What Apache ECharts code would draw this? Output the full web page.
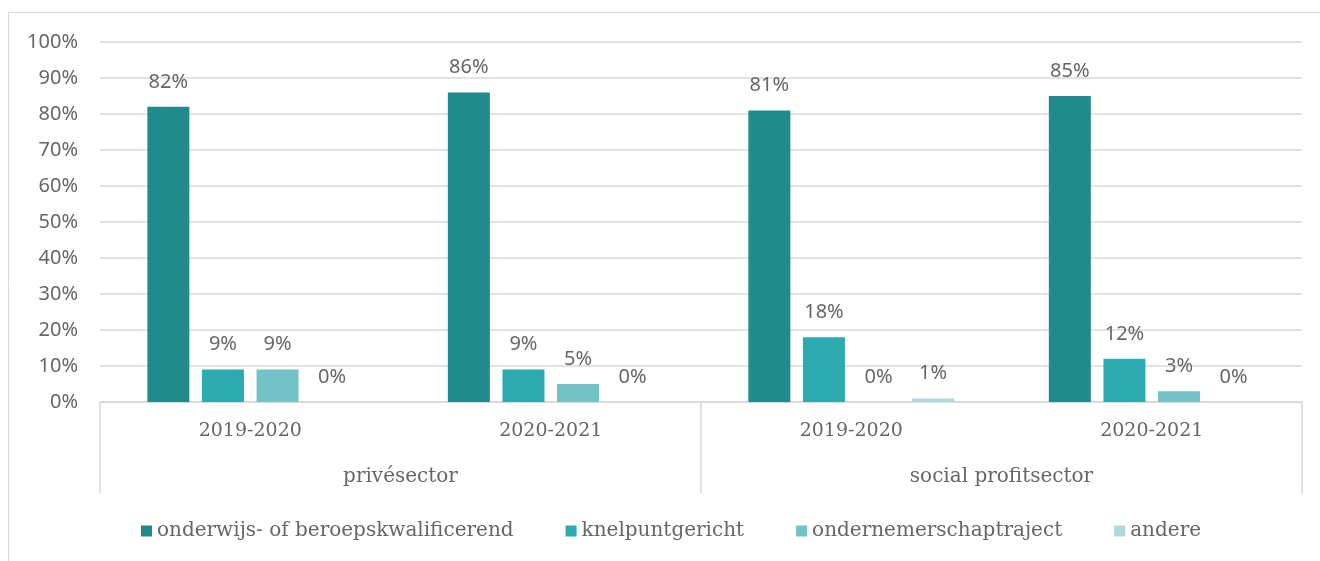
<!DOCTYPE html>
<html>
<head>
<meta charset="utf-8">
<script src="https://cdn.jsdelivr.net/npm/echarts@6/dist/echarts.min.js"></script>
<style>
html,body{margin:0;padding:0;background:#fff;}
#chart{width:1320px;height:561px;}
</style>
</head>
<body>
<div id="chart"></div>
<script>
const years = ["2019-2020", "2020-2021", "2019-2020", "2020-2021"];
const sectors = ["privésector", "social profitsector"];
const seriesNames = ["onderwijs- of beroepskwalificerend", "knelpuntgericht", "ondernemerschaptraject", "andere"];
const onderwijs = [82, 86, 81, 85];
const knelpunt = [9, 9, 18, 12];
const ondernemer = [9, 5, 0, 3];
const andere = [0, 0, 1, 0];
const yTicks = [0, 10, 20, 30, 40, 50, 60, 70, 80, 90, 100];

const colors = ["#218B8C", "#2EABB0", "#72C2C6", "#B0D9DB"];
const values = [onderwijs, knelpunt, ondernemer, andere];
const serifFont = "'DejaVu Serif', 'Liberation Serif', serif";
const sansFont = "'Noto Sans', 'Open Sans', sans-serif";
const textColor = "#666666";

const chart = echarts.init(document.getElementById('chart'));
chart.setOption({
  animation: false,
  color: colors,
  graphic: [{
    type: 'rect',
    shape: {x: 8.5, y: 12.5, width: 1400, height: 700},
    style: {fill: 'none', stroke: '#d9d9d9', lineWidth: 1},
    silent: true
  }],
  grid: {left: 100, right: 18, top: 42, bottom: 159},
  legend: {
    bottom: 15,
    left: 136,
    itemWidth: 11,
    itemHeight: 11,
    itemGap: 52,
    icon: 'rect',
    textStyle: {fontFamily: serifFont, fontSize: 20, color: textColor},
    data: seriesNames
  },
  xAxis: [{
    type: 'category',
    data: years,
    axisLine: {lineStyle: {color: '#d9d9d9', width: 1.5}},
    axisTick: {show: false},
    axisLabel: {fontFamily: serifFont, fontSize: 19, color: textColor, margin: 20}
  }, {
    type: 'category',
    data: sectors,
    position: 'bottom',
    axisLine: {show: false},
    axisTick: {show: true, length: 91, interval: 0, lineStyle: {color: '#d9d9d9', width: 1.5}},
    axisLabel: {fontFamily: serifFont, fontSize: 20, color: textColor, margin: 65}
  }],
  yAxis: {
    type: 'value',
    min: 0, max: 100, interval: 10,
    axisLine: {show: false},
    axisTick: {show: false},
    splitLine: {lineStyle: {color: '#d9d9d9', width: 1.5}},
    axisLabel: {
      fontFamily: sansFont, fontSize: 20, color: textColor, margin: 22,
      formatter: v => yTicks.includes(v) ? v + '%' : ''
    }
  },
  series: seriesNames.map((n, i) => ({
    name: n,
    type: 'bar',
    xAxisIndex: 0,
    data: values[i],
    barWidth: 42,
    barGap: '30%',
    itemStyle: {color: colors[i]},
    label: {
      show: true, position: 'top', distance: 15,
      fontFamily: sansFont, fontSize: 20, color: textColor,
      formatter: p => p.value + '%'
    }
  }))
});
</script>
</body>
</html>
